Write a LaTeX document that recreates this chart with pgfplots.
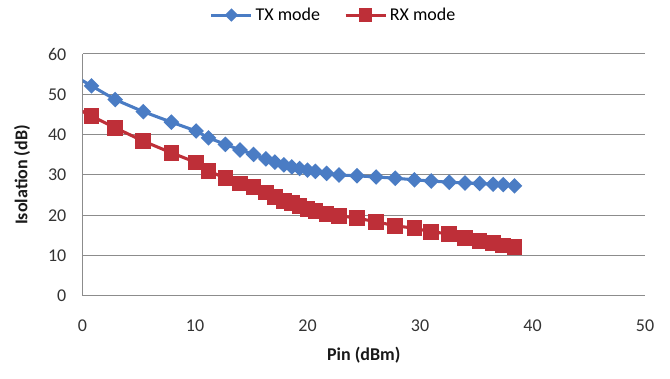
\documentclass[border=0pt]{standalone}
\usepackage{fontspec}
\setmainfont{Carlito}
\usepackage{pgfplots}
\pgfplotsset{compat=1.18}
\definecolor{txblue}{HTML}{4A7CC4}
\definecolor{rxred}{HTML}{BE2F38}
\definecolor{gridgray}{HTML}{8C8C8C}
\begin{document}
\begin{tikzpicture}
\begin{axis}[
  scale only axis, width=421.9pt, height=181.5pt,
  xmin=0, xmax=50, ymin=0, ymax=60,
  xtick={0,10,...,50}, ytick={0,10,...,60},
  axis x line*=bottom, axis y line*=left,
  ymajorgrids, major grid style={gridgray, line width=0.75pt},
  axis line style={gridgray, line width=0.75pt},
  major tick length=0pt, tick style={draw=none},
  /pgf/number format/assume math mode=true,
  tick label style={font=\fontsize{13.5}{16}\selectfont, color=black!80},
  xticklabel style={yshift=-14.5pt},
  yticklabel style={xshift=-8.6pt},
  label style={font=\bfseries\fontsize{13.5}{16}\selectfont, color=black!90},
  xlabel={Pin (dBm)}, ylabel={Isolation (dB)},
  xlabel style={at={(axis description cs:0.5,-0.2438)}, anchor=center},
  ylabel style={at={(axis description cs:-0.1076,0.5)}, anchor=center},
  legend style={at={(axis description cs:0.447,1.161)}, anchor=center, draw=none,
    font=\fontsize{13.5}{16}\selectfont, inner sep=0pt,
    /tikz/every even column/.append style={column sep=16pt}},
  legend columns=2,
  legend image code/.code={\draw[mark indices={2}, /tikz/every mark/.append style={scale=0.8}] plot coordinates {(0pt,0pt) (15pt,0pt) (30pt,0pt)};},
]
\addplot[txblue, line width=2.3pt, mark=square*, mark indices={1,...,29},
  mark options={rotate=45, mark size=3pt, solid}] coordinates {
(-1,55.0) (0.8,52.1) (2.9,48.7) (5.4,45.7) (7.9,43.1) (10.1,40.9) (11.2,39.2)
(12.7,37.6) (14.0,36.2) (15.2,35.1) (16.3,34.0) (17.1,33.2) (17.9,32.5)
(18.6,32.0) (19.3,31.6) (20.0,31.2) (20.7,30.9) (21.7,30.4) (22.8,30.0)
(24.4,29.8) (26.1,29.5) (27.8,29.2) (29.5,28.8) (31.0,28.5) (32.6,28.2)
(34.0,28.0) (35.3,27.9) (36.5,27.7) (37.4,27.6) (38.4,27.3)};
\addlegendentry{TX mode}
\addplot[rxred, line width=2.3pt, mark=square*, mark indices={1,...,29},
  mark options={mark size=4.7pt, solid}] coordinates {
(-1,47.2) (0.8,44.6) (2.9,41.7) (5.4,38.4) (7.9,35.5) (10.1,33.1) (11.2,31.0)
(12.7,29.2) (14.0,27.9) (15.2,27.0) (16.3,25.7) (17.1,24.5) (17.9,23.6)
(18.6,23.0) (19.3,22.3) (20.0,21.6) (20.7,21.1) (21.7,20.3) (22.8,19.9)
(24.4,19.3) (26.1,18.4) (27.8,17.4) (29.5,16.8) (31.0,15.9) (32.6,15.4)
(34.0,14.3) (35.3,13.7) (36.5,13.2) (37.4,12.5) (38.4,12.1)};
\addlegendentry{RX mode}
\coordinate (ll) at (rel axis cs:0,0);
\coordinate (ur) at (rel axis cs:1,1);
\end{axis}
\pgfresetboundingbox
\path ([shift={(-61.9pt,-62.25pt)}]ll) rectangle ([shift={(18.75pt,40.5pt)}]ur);
\end{tikzpicture}
\end{document}
